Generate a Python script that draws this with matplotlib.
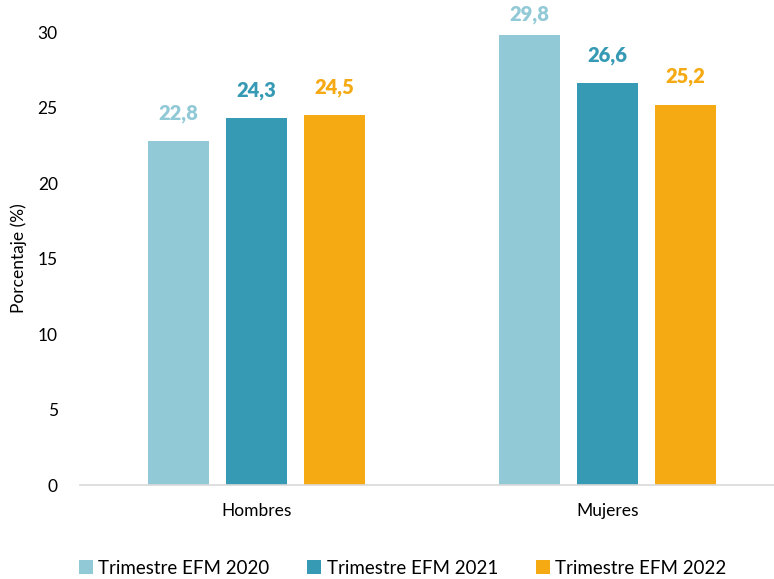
import matplotlib.pyplot as plt
import numpy as np

plt.rcParams["font.family"] = ["Lato", "DejaVu Sans"]

categories = ["Hombres", "Mujeres"]
series_names = ["Trimestre EFM 2020", "Trimestre EFM 2021", "Trimestre EFM 2022"]
values_2020 = [22.8, 29.8]
values_2021 = [24.3, 26.6]
values_2022 = [24.5, 25.2]
COLORS = ["#92C9D6", "#369AB4", "#F5A912"]

fig = plt.figure(figsize=(7.74, 5.79), dpi=100)
ax_rect = [0.1034, 0.1623, 0.8966, 0.7824]
ax = fig.add_axes(ax_rect)

ymax = 30
axes_h_px = ax_rect[3] * 579
top_px = (1 - ax_rect[1] - ax_rect[3]) * 579

x = np.arange(len(categories))
width = 0.174
offset = 0.222
for i, (vals, name, color) in enumerate(zip([values_2020, values_2021, values_2022], series_names, COLORS)):
    pos = x + (i - 1) * offset
    ax.bar(pos, vals, width=width, color=color, label=name)
    for px, v in zip(pos, vals):
        # keep labels inside the figure, like Excel does for the tallest bar
        room = ((ymax - v) / ymax * axes_h_px + top_px) * 0.72
        dy = min(13, room - 17)
        ax.annotate(f"{v:.1f}".replace(".", ","), (px, v), xytext=(0, dy), textcoords="offset points",
                    ha="center", va="bottom", color=color, fontsize=14.5, fontweight="heavy",
                    annotation_clip=False)

ax.set_xlim(-0.503, 1.474)
ax.set_ylim(0, ymax)
ax.set_yticks(range(0, 31, 5))
ax.set_xticks(x)
ax.set_xticklabels(categories)
ax.tick_params(axis="both", length=0, labelsize=12.5, colors="#000000")
ax.tick_params(axis="y", pad=16)
ax.tick_params(axis="x", pad=13)
for side in ["top", "right", "left"]:
    ax.spines[side].set_visible(False)
ax.spines["bottom"].set_color("#D9D9D9")
ax.spines["bottom"].set_linewidth(1.2)
ax.set_ylabel("Porcentaje (%)", fontsize=12.5, labelpad=8)

fig.legend(loc="lower center", bbox_to_anchor=(0.52, -0.025), ncol=3, frameon=False,
           fontsize=13.5, handlelength=0.75, handleheight=0.75, handletextpad=0.3, columnspacing=2.0)

fig.savefig("out.png", dpi=100)
